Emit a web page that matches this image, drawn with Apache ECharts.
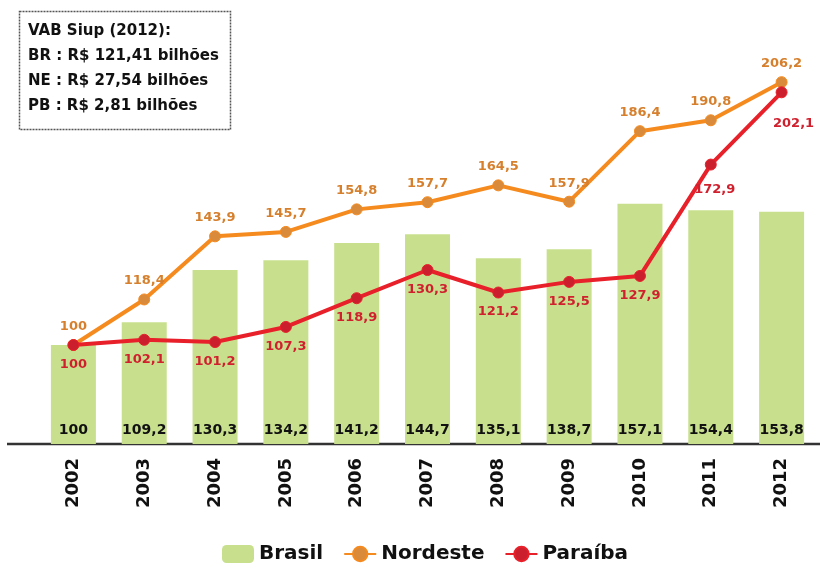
<!DOCTYPE html>
<html>
<head>
<meta charset="utf-8">
<script src="https://cdn.jsdelivr.net/npm/echarts@6/dist/echarts.min.js"></script>
<style>
html, body { margin: 0; padding: 0; background: #fff; }
#main { width: 824px; height: 565px; }
</style>
</head>
<body>
<div id="main"></div>
<script>
var anos = ['2002','2003','2004','2005','2006','2007','2008','2009','2010','2011','2012'];
var brasil = [100, 109.2, 130.3, 134.2, 141.2, 144.7, 135.1, 138.7, 157.1, 154.4, 153.8];
var nordeste = [100, 118.4, 143.9, 145.7, 154.8, 157.7, 164.5, 157.9, 186.4, 190.8, 206.2];
var paraiba = [100, 102.1, 101.2, 107.3, 118.9, 130.3, 121.2, 125.5, 127.9, 172.9, 202.1];
var caixaLinhas = ['VAB Siup (2012):', 'BR : R$ 121,41 bilhões', 'NE : R$ 27,54 bilhões', 'PB : R$ 2,81 bilhões'];

var fonte = '"DejaVu Sans", "Liberation Sans", sans-serif';

function virgula(p) {
	return String(p.value).replace('.', ',');
}

// deslocamento dos rótulos da Paraíba nos dois últimos anos
var ajustePB = { 9: [4, 6], 10: [12, 12] };
var dadosPB = paraiba.map(function (v, i) {
	if (ajustePB[i]) {
		return { value: v, label: { offset: ajustePB[i] } };
	}
	return v;
});

var myChart = echarts.init(document.getElementById('main'));

// caixa de texto no canto
var textos = [];
for (var i = 0; i < caixaLinhas.length; i++) {
	textos.push({
		type: 'text',
		left: 28,
		top: 24 + i * 25,
		style: {
			text: caixaLinhas[i],
			fontFamily: fonte,
			fontWeight: 'bold',
			fontSize: 15,
			fill: '#111'
		}
	});
}

var option = {
	animation: false,
	textStyle: { fontFamily: fonte },
	grid: { left: 38, right: 7, top: 48, bottom: 121 },
	legend: {
		left: 217,
		top: 539,
		itemGap: 20,
		itemWidth: 32,
		itemHeight: 18,
		textStyle: { fontFamily: fonte, fontWeight: 'bold', fontSize: 20, color: '#111' },
		data: [
			{ name: 'Brasil', itemStyle: { color: '#c8e08e' } },
			'Nordeste',
			'Paraíba'
		]
	},
	xAxis: {
		type: 'category',
		data: anos,
		axisLine: { show: false },
		axisTick: { show: false },
		axisLabel: {
			rotate: 90,
			margin: 14,
			fontFamily: fonte,
			fontWeight: 'bold',
			fontSize: 18,
			color: '#111'
		}
	},
	yAxis: {
		type: 'value',
		min: 60,
		max: 220,
		show: false,
		splitLine: { show: false }
	},
	graphic: [
		{
			type: 'rect',
			left: 17,
			top: 9,
			shape: { width: 211, height: 118 },
			style: { fill: 'none', stroke: '#555', lineWidth: 1.5, lineDash: [2, 1] }
		},
		{
			type: 'line',
			shape: { x1: 7, y1: 444, x2: 820, y2: 444 },
			style: { stroke: '#333', lineWidth: 2.5 }
		}
	].concat(textos),
	series: [
		{
			name: 'Brasil',
			type: 'bar',
			data: brasil,
			barWidth: 45,
			itemStyle: { color: '#c8e08e' },
			label: {
				show: true,
				position: 'insideBottom',
				distance: 7,
				formatter: virgula,
				fontFamily: fonte,
				fontWeight: 'bold',
				fontSize: 14,
				color: '#111'
			}
		},
		{
			name: 'Nordeste',
			type: 'line',
			data: nordeste,
			symbol: 'circle',
			symbolSize: 11,
			lineStyle: { color: '#f58a1f', width: 4 },
			itemStyle: { color: '#d98a3a', borderColor: '#f58a1f', borderWidth: 1 },
			label: {
				show: true,
				position: 'top',
				distance: 6,
				formatter: virgula,
				fontFamily: fonte,
				fontWeight: 'bold',
				fontSize: 13,
				color: '#d6802e'
			},
			z: 3
		},
		{
			name: 'Paraíba',
			type: 'line',
			data: dadosPB,
			symbol: 'circle',
			symbolSize: 11,
			lineStyle: { color: '#e8202a', width: 4 },
			itemStyle: { color: '#cc1f2e', borderColor: '#e8202a', borderWidth: 1 },
			label: {
				show: true,
				position: 'bottom',
				distance: 7,
				formatter: virgula,
				fontFamily: fonte,
				fontWeight: 'bold',
				fontSize: 13,
				color: '#d0202e'
			},
			z: 4
		}
	]
};
myChart.setOption(option);
</script>
</body>
</html>
